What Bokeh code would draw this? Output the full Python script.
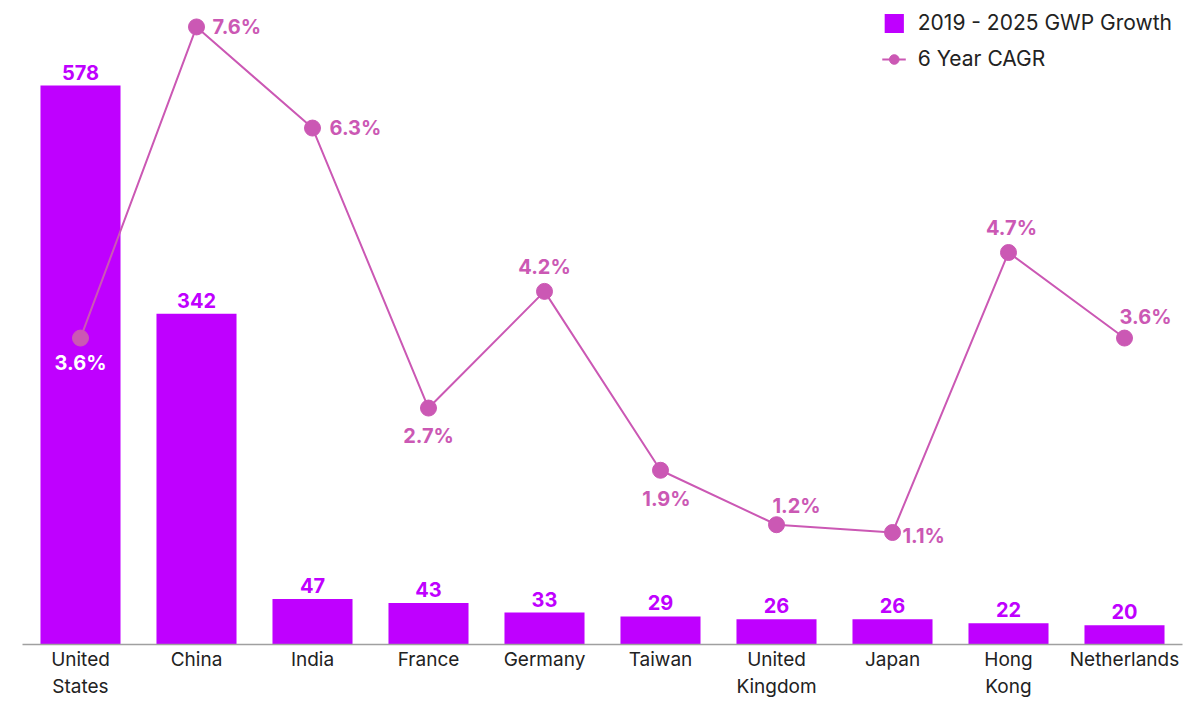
from bokeh.plotting import figure
from bokeh.models import ColumnDataSource, FactorRange, Range1d, Legend, LegendItem
from bokeh.core.properties import value
from bokeh.embed import file_html
from bokeh.resources import INLINE

countries = ["United\nStates", "China", "India", "France", "Germany", "Taiwan",
             "United\nKingdom", "Japan", "Hong\nKong", "Netherlands"]
gwp_growth = [578, 342, 47, 43, 33, 29, 26, 26, 22, 20]
cagr = [3.6, 7.6, 6.3, 2.7, 4.2, 1.9, 1.2, 1.1, 4.7, 3.6]

# label styling (screen-pixel offsets, alignment, colour)
cagr_dx = [0, 16, 17, 0, 0, 6, 20, 10, 3, 21]
cagr_dy = [25, 0, 0, 28, -24, 29, -19, 3, -25, -21]
cagr_align = ["center", "left", "left", "center", "center", "center", "center", "left", "center", "center"]
BAR = "#BF00FF"
LINE = "#CB58B4"
cagr_color = ["#FFFFFF"] + [LINE] * 9

FONT = "Inter"

p = figure(x_range=FactorRange(*countries, range_padding=0),
           y_range=Range1d(0, 666),
           width=1187, height=701, output_backend="svg", toolbar_location=None,
           min_border_left=22, min_border_right=5, min_border_top=0, min_border_bottom=0)
p.extra_y_ranges = {"cagr": Range1d(-0.34, 7.94)}
p.outline_line_color = None
p.xgrid.visible = False
p.ygrid.visible = False
p.yaxis.visible = False

src = ColumnDataSource(dict(
    country=countries, gwp=gwp_growth, cagr=cagr,
    gwp_text=[str(v) for v in gwp_growth],
    cagr_text=[f"{v:.1f}%" for v in cagr],
    dx=cagr_dx, dy=cagr_dy, align=cagr_align, tcolor=cagr_color,
))

bars = p.vbar(x="country", top="gwp", width=0.69, source=src, color=BAR, line_color=None)
p.text(x="country", y="gwp", text="gwp_text", source=src, y_offset=-6,
       text_align="center", text_baseline="bottom", text_color=BAR,
       text_font=value(FONT), text_font_style="bold", text_font_size="20px")

ln = p.line(x="country", y="cagr", source=src, y_range_name="cagr", line_color=LINE, line_width=2)
pts = p.scatter(x="country", y="cagr", source=src, y_range_name="cagr", size=16,
                fill_color=LINE, line_color=LINE)
p.text(x="country", y="cagr", text="cagr_text", source=src, y_range_name="cagr",
       x_offset="dx", y_offset="dy", text_align="align", text_baseline="middle",
       text_color="tcolor", text_font=value(FONT), text_font_style="bold", text_font_size="20px")

ax = p.xaxis[0]
ax.major_tick_line_color = None
ax.minor_tick_line_color = None
ax.major_tick_out = 0
ax.major_tick_in = 0
ax.axis_line_color = "#A0A0A0"
ax.axis_line_width = 1.5
ax.major_label_text_font = FONT
ax.major_label_text_font_size = "19px"
ax.major_label_text_color = "#222222"
ax.major_label_standoff = 3

legend = Legend(items=[LegendItem(label="2019 - 2025 GWP Growth", renderers=[bars]),
                       LegendItem(label="6 Year CAGR", renderers=[ln, pts])],
                location="top_right", border_line_color=None, background_fill_alpha=0,
                margin=10, padding=11, spacing=11, glyph_width=24, glyph_height=24,
                label_standoff=12, label_text_font=FONT, label_text_font_size="21px",
                label_text_color="#222222")
p.add_layout(legend)

open("out.html", "w").write(file_html(p, INLINE))
